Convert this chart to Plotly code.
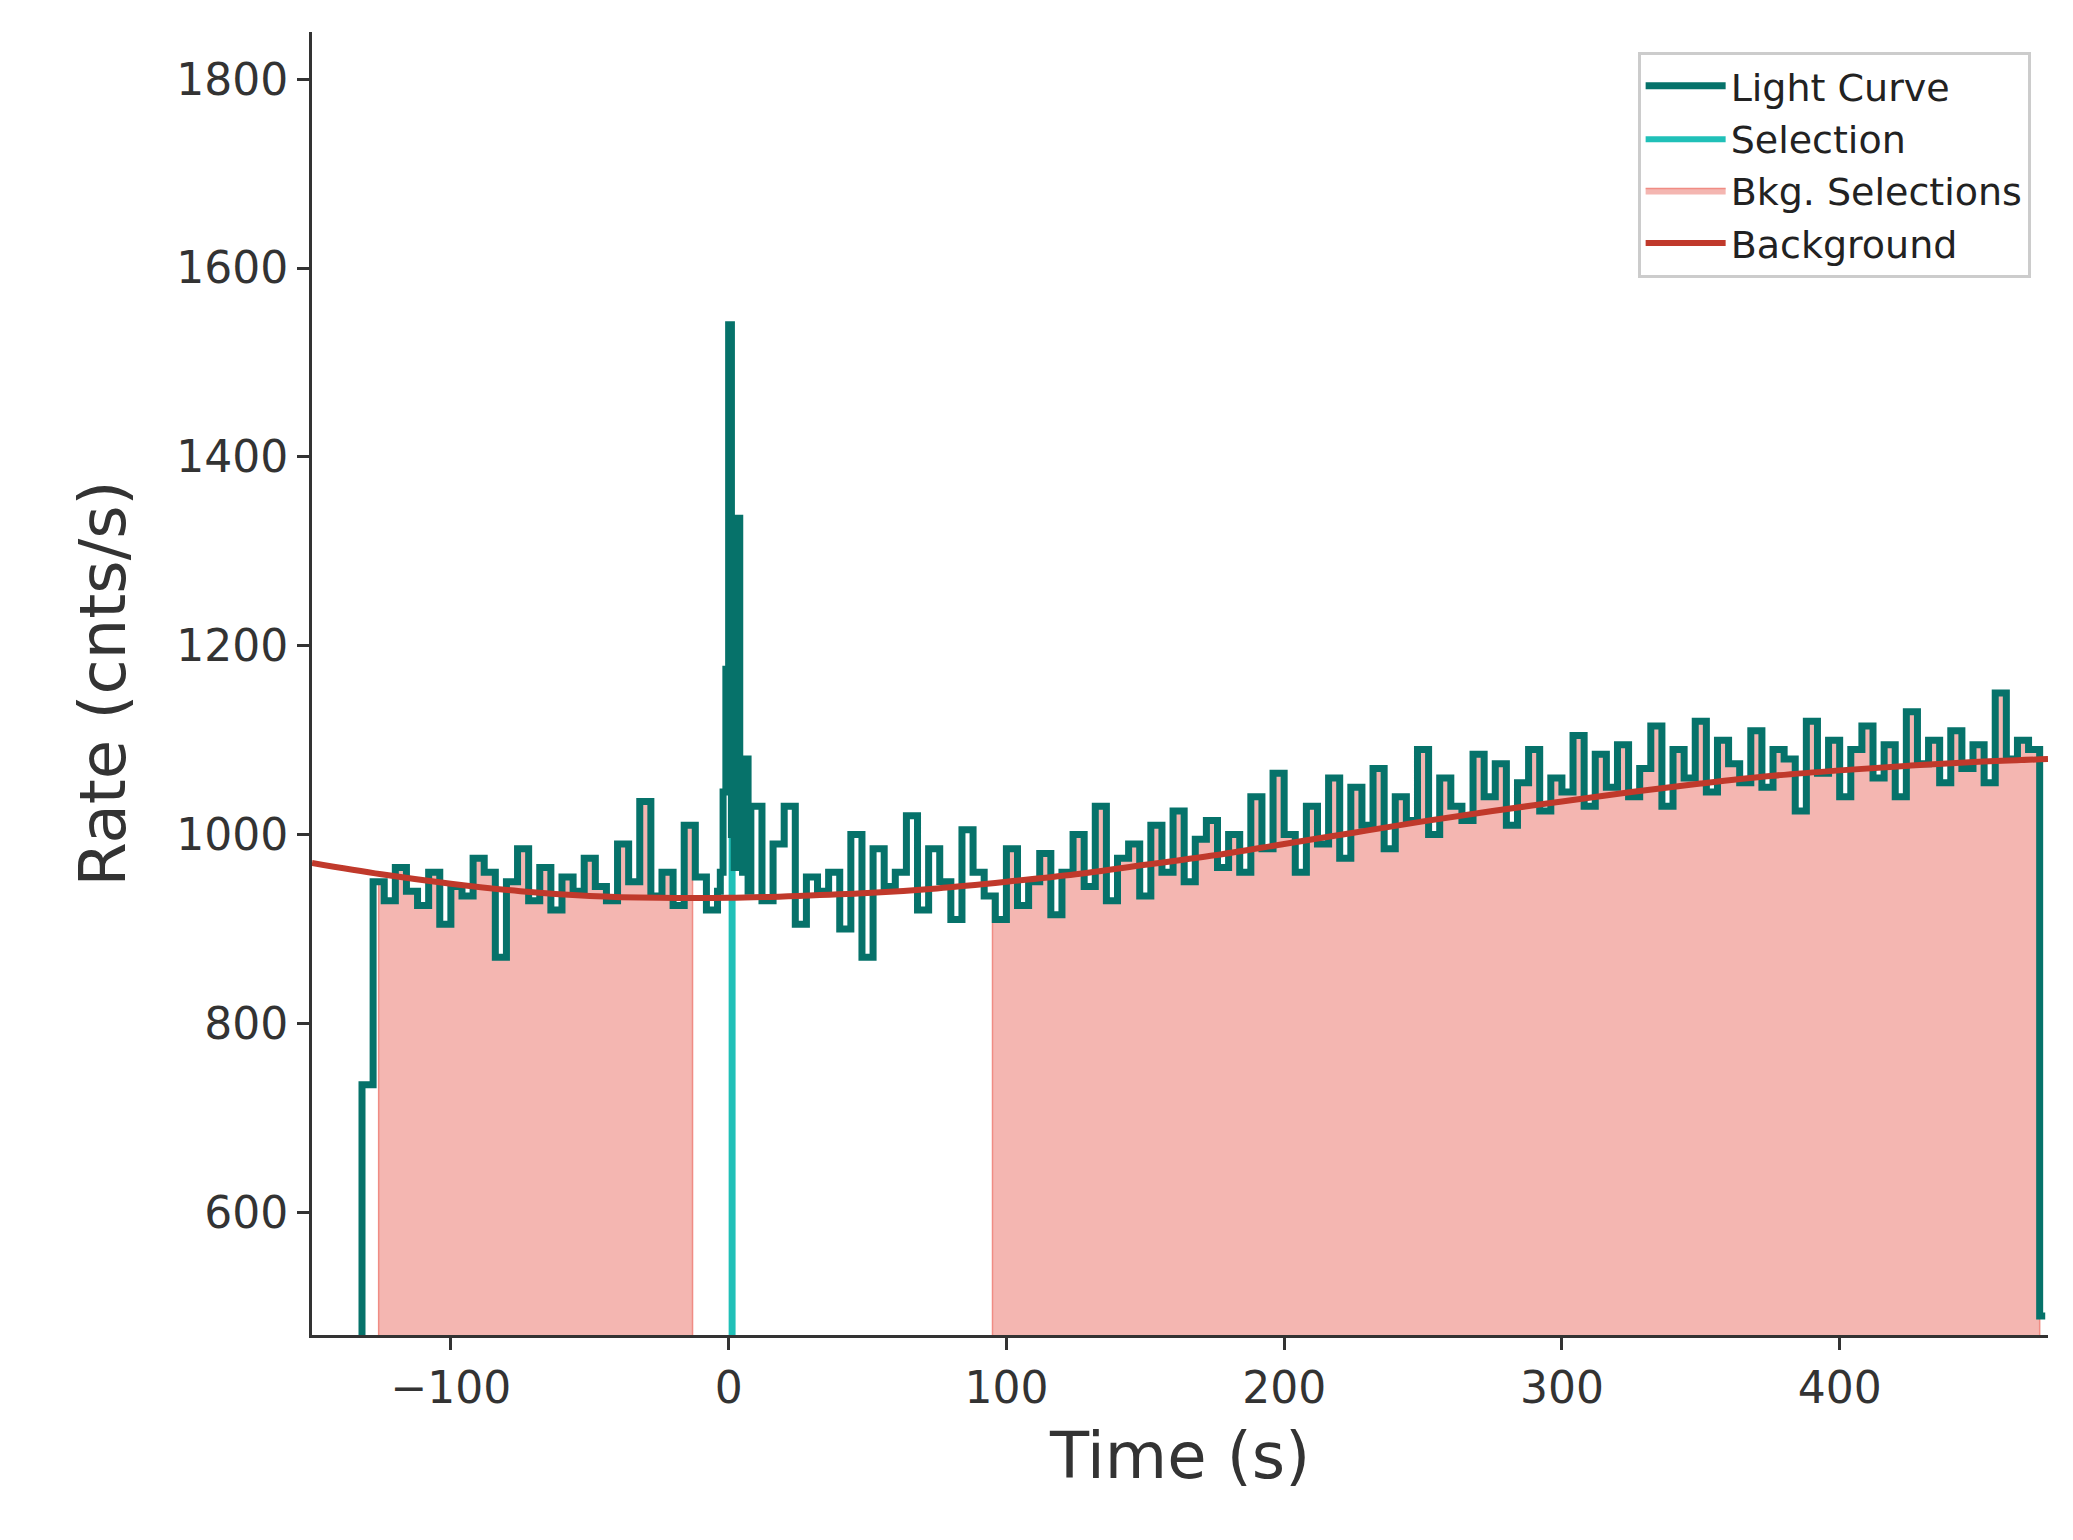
import numpy as np
import plotly.graph_objects as go

pre_vals = [735,950,930,965,940,925,960,905,945,935,975,960,870,950,985,930,965,920,955,940,
            975,945,930,990,950,1035,935,960,925,1010,955,920]
burst_vals = [940,960,1045,1175,1540,1000,965,1335,1000,960,1080,940]
post_vals = [1030,930,990,1030,905,955,940,960,900,1000,
             870,985,945,960,1020,920,985,950,910,1005,
             960,935,910,985,925,950,980,915,960,1000,
             945,1030,930,975,990,935,1010,960,1025,950,
             995,1015,965,1000,960,1040,985,1065,1000,960,
             1030,990,1060,975,1050,1010,1070,985,1040,1015,
             1090,1000,1060,1030,1015,1085,1040,1075,1010,1055,
             1090,1025,1060,1045,1105,1030,1085,1050,1095,1040,
             1070,1115,1030,1090,1060,1120,1045,1100,1075,1055,
             1110,1050,1090,1080,1025,1120,1065,1100,1040,1090,
             1115,1060,1095,1040,1130,1075,1100,1055,1110,1070,
             1095,1055,1150,1080,1100,1090,490]
edges = list(np.arange(-132, -3, 4)) + list(np.arange(-3, 9, 1)) + list(np.arange(12, 473, 4)) + [474]
vals = pre_vals + burst_vals + post_vals
edges = [float(e) for e in edges]

bkg_t = [-150, -125, -100, -75, -50, -25, 0, 25, 50, 75, 100, 125, 150, 175, 200, 225, 250, 275, 300, 325, 350, 375, 400, 425, 450, 475]
bkg_v = [970, 958, 948, 940, 935, 933, 933, 935, 938, 943, 950, 958, 968, 978, 990, 1002, 1014, 1025, 1035, 1045, 1054, 1062, 1068, 1073, 1077, 1080]

bkg_sel = [(-126, -13), (95, 472)]
src_sel = [(0, 2.5)]

def step_pts(lo, hi):
    xs, ys = [], []
    for i, v in enumerate(vals):
        a, b = edges[i], edges[i+1]
        a2, b2 = max(a, lo), min(b, hi)
        if a2 < b2:
            xs += [a2, b2]; ys += [v, v]
    return xs, ys

fig = go.Figure()
for k, (lo, hi) in enumerate(bkg_sel):
    xs, ys = step_pts(lo, hi)
    fig.add_trace(go.Scatter(x=[xs[0]]+xs+[xs[-1]], y=[0]+ys+[0], fill='toself', mode='lines',
                             line=dict(color='#f08c84', width=1.5), fillcolor='#f4b6b1',
                             name='Bkg. Selections', showlegend=(k == 0), legendrank=3))
for lo, hi in src_sel:
    xs, ys = step_pts(lo, hi)
    fig.add_trace(go.Scatter(x=[xs[0]]+xs+[xs[-1]], y=[0]+ys+[0], fill='toself', mode='lines',
                             line=dict(color='#20c0b8', width=0), fillcolor='#20c0b8',
                             name='Selection', legendrank=2))
lx = [edges[0]] + edges[:-1] + [edges[-1]]
ly = [0] + vals + [vals[-1]]
fig.add_trace(go.Scatter(x=lx, y=ly, mode='lines', line=dict(color='#06726a', width=7, shape='hv'),
                         name='Light Curve', legendrank=1))
fig.add_trace(go.Scatter(x=bkg_t, y=bkg_v, mode='lines', line=dict(color='#c0392b', width=6, shape='spline'),
                         name='Background', legendrank=4))

axis_common = dict(showline=True, linecolor='#333333', linewidth=3, ticks='outside', ticklen=12, tickwidth=2.5,
                   tickcolor='#333333', showgrid=False, zeroline=False,
                   tickfont=dict(size=44, color='#333333'), mirror=False)
fig.update_xaxes(range=[-150, 475], tickvals=[-100, 0, 100, 200, 300, 400], ticktext=['−100','0','100','200','300','400'],
                 title=dict(text='Time (s)', font=dict(size=64, color='#333333'), standoff=22), **axis_common)
fig.update_yaxes(range=[470, 1850], tickvals=[600, 800, 1000, 1200, 1400, 1600, 1800],
                 title=dict(text='Rate (cnts/s)', font=dict(size=64, color='#333333'), standoff=30), **axis_common)
fig.update_layout(width=2073, height=1540, plot_bgcolor='white', paper_bgcolor='white',
                  font=dict(family='DejaVu Sans'),
                  margin=dict(l=304, r=33, t=24, b=213),
                  legend=dict(x=0.99, y=0.985, xanchor='right', yanchor='top', bgcolor='white',
                              bordercolor='#cccccc', borderwidth=3, font=dict(size=38, color='#222222'),
                              traceorder='normal', itemwidth=80))
fig.write_html('out.html')
